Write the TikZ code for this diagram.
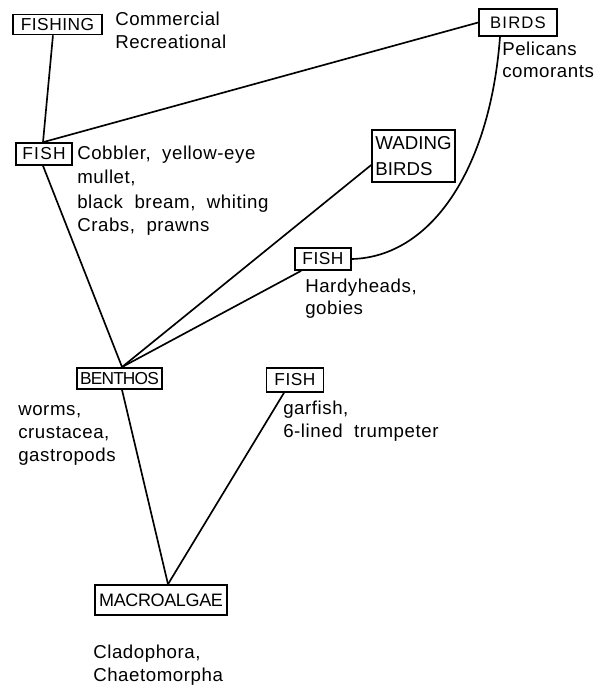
\documentclass[tikz,border=0pt]{standalone}
\usepackage{fontspec}
\setmainfont{Liberation Sans}
\newfontfamily\descfont{Liberation Sans}[LetterSpace=3]
\newfontfamily\boxmid{Liberation Sans}[LetterSpace=7]
\newfontfamily\boxplain{Liberation Sans}[LetterSpace=3]
\newfontfamily\boxtight{Liberation Sans}[LetterSpace=-2]
\newfontfamily\boxnarrow{Liberation Sans}[LetterSpace=-5]
\begin{document}
\begin{tikzpicture}[x=0.75pt,y=-0.75pt,
  box/.style={draw, line width=1.2pt, inner sep=0pt},
  desc/.style={anchor=base west, inner sep=0pt, font=\descfont\fontsize{14}{17}\selectfont},
  link/.style={line width=1.25pt}]
\useasboundingbox (0,0) rectangle (602,688);

% trophic levels
\node[box, minimum width=66.75pt, minimum height=15pt, font=\boxplain\fontsize{13}{15}\selectfont] (fishing) at (57.5,24.5) {FISHING};
\node[box, minimum width=58.5pt, minimum height=20.25pt, font=\boxmid\fontsize{12.5}{15}\selectfont] (birds) at (518,22.5) {BIRDS};
\node[box, minimum width=42pt, minimum height=16.5pt, font=\boxmid\fontsize{13}{15}\selectfont] (fishA) at (44,154) {FISH};
\node[box, minimum width=62.25pt, minimum height=39pt, align=left, font=\fontsize{14}{19.5}\selectfont] (wading) at (413.5,156) {WADING\\BIRDS};
\node[box, minimum width=42pt, minimum height=16.5pt, font=\boxplain\fontsize{13}{15}\selectfont] (fishB) at (323,259) {FISH};
\node[box, minimum width=63.75pt, minimum height=16pt, font=\boxnarrow\fontsize{13}{15}\selectfont] (benthos) at (119.5,378.5) {BENTHOS};
\node[box, minimum width=42.75pt, minimum height=18pt, font=\boxplain\fontsize{13}{15}\selectfont] (fishC) at (295,380) {FISH};
\node[box, minimum width=99pt, minimum height=22.5pt, font=\boxtight\fontsize{13.5}{15}\selectfont] (macro) at (161,600) {MACROALGAE};

% member lists
\node[desc] (fishing1) at (115,26) {Commercial};
\node[desc] (fishing2) at (115,49) {Recreational};
\node[desc] (birds1) at (502,56) {Pelicans};
\node[desc] (birds2) at (502,78) {comorants};
\node[desc] (fishA1) at (77,159) {Cobbler,\ \ yellow-eye};
\node[desc] (fishA2) at (77,183) {mullet,};
\node[desc] (fishA3) at (77,208) {black\ \ bream,\ \ whiting};
\node[desc] (fishA4) at (77,231) {Crabs,\ \ prawns};
\node[desc] (fishB1) at (305,292) {Hardyheads,};
\node[desc] (fishB2) at (305,314) {gobies};
\node[desc] (benthos1) at (18,415) {worms,};
\node[desc] (benthos2) at (18,438) {crustacea,};
\node[desc] (benthos3) at (18,461) {gastropods};
\node[desc] (fishC1) at (283,414) {garfish,};
\node[desc] (fishC2) at (283,437) {6-lined\ \ trumpeter};
\node[desc] (macro1) at (93,658) {Cladophora,};
\node[desc] (macro2) at (93,681) {Chaetomorpha};

% junction points on the boxes
\coordinate (fishAtop) at ([xshift=-0.75pt]fishA.north);
\coordinate (benthostop) at ([xshift=1.9pt]benthos.north);
\coordinate (macrotop) at ([xshift=5.25pt]macro.north);

% feeding links
\draw[link] ([xshift=-3.4pt]fishing.south) -- (fishAtop);
\draw[link] (fishAtop) -- (birds.west);
\draw[link] ([xshift=-13.5pt]birds.south) .. controls +(-10,133) and +(79,-2) .. (fishB.east);
\draw[link] ([yshift=-6.75pt]wading.west) -- (benthostop);
\draw[link] ([xshift=5.25pt]fishB.south west) -- (benthostop);
\draw[link] ([xshift=-0.75pt]fishA.south) -- (benthostop);
\draw[link] ([xshift=1.9pt]benthos.south) -- (macrotop);
\draw[link] ([xshift=-8.25pt]fishC.south) -- (macrotop);
\end{tikzpicture}
\end{document}
